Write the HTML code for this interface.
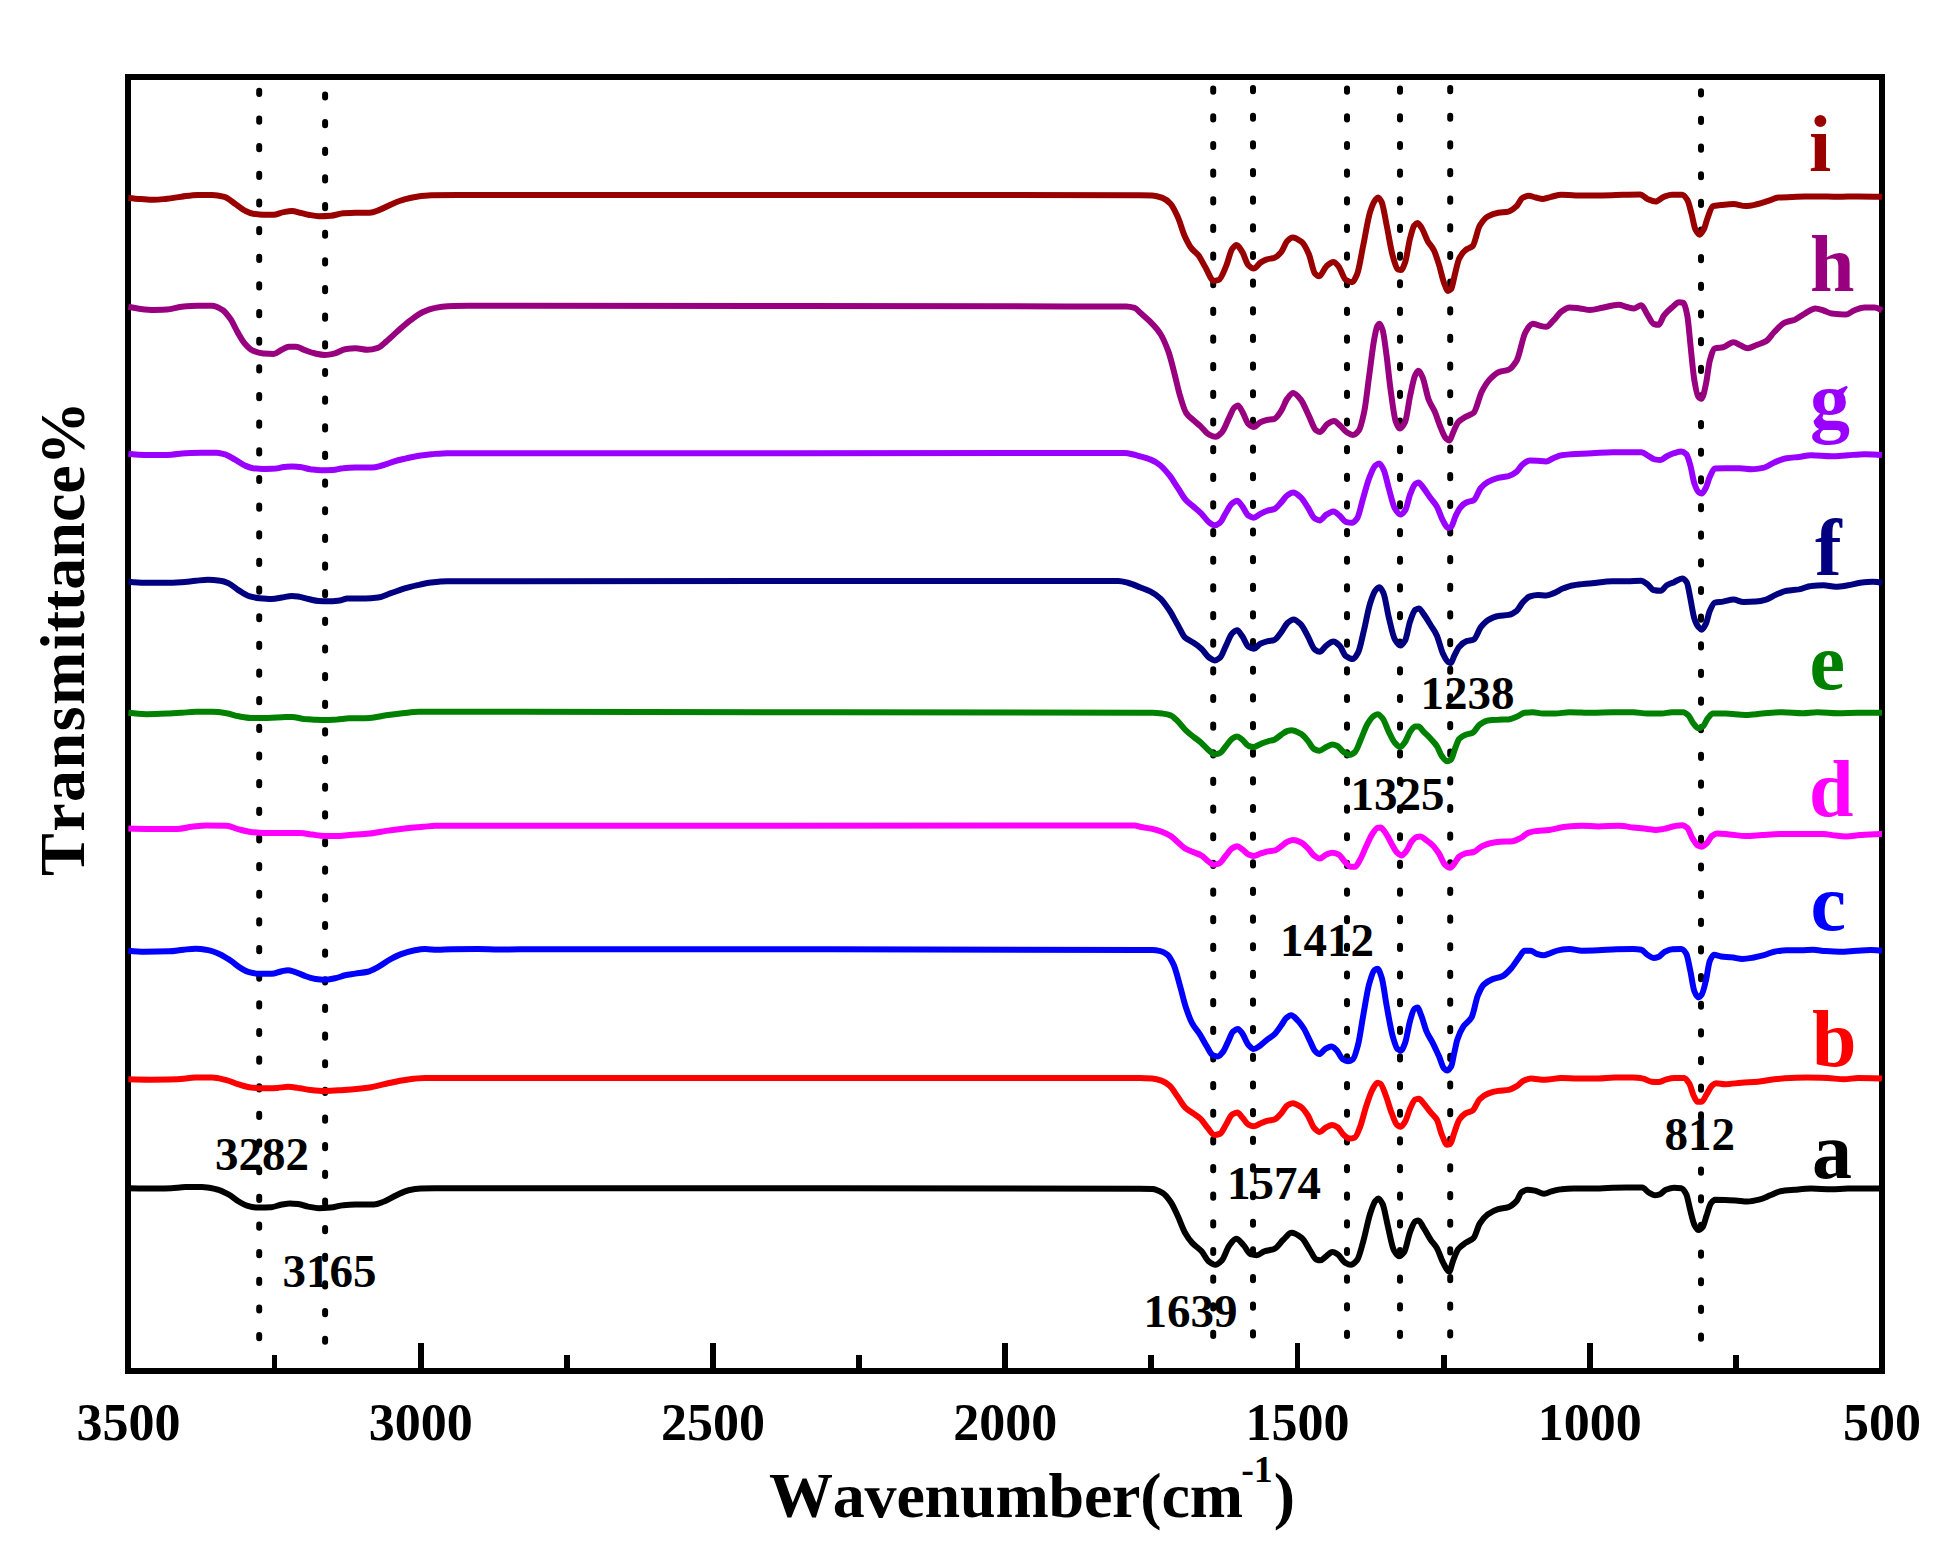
<!DOCTYPE html>
<html lang="en">
<head>
<meta charset="utf-8">
<title>FTIR spectra</title>
<style>
html,body{margin:0;padding:0;background:#fff;}
body{width:1954px;height:1564px;overflow:hidden;}
svg{display:block;}
text{font-family:"Liberation Serif",serif;font-weight:bold;font-kerning:none;}
.tick{font-size:52px;text-anchor:middle;}
.ann{font-size:47px;}
.lab{font-size:80px;}
.axis{font-size:64px;}
</style>
</head>
<body>
<svg width="1954" height="1564" viewBox="0 0 1954 1564">
<rect x="0" y="0" width="1954" height="1564" fill="#ffffff"/>
<rect x="128.4" y="77.0" width="1753.6" height="1293.7" fill="none" stroke="#000" stroke-width="5.8" shape-rendering="crispEdges"/>
<g stroke="#000" stroke-width="5.8" stroke-linecap="butt" shape-rendering="crispEdges">
<line x1="420.7" y1="1342.5" x2="420.7" y2="1370.7"/>
<line x1="712.9" y1="1342.5" x2="712.9" y2="1370.7"/>
<line x1="1005.2" y1="1342.5" x2="1005.2" y2="1370.7"/>
<line x1="1297.5" y1="1342.5" x2="1297.5" y2="1370.7"/>
<line x1="1589.7" y1="1342.5" x2="1589.7" y2="1370.7"/>
<line x1="274.5" y1="1355" x2="274.5" y2="1370.7"/>
<line x1="566.8" y1="1355" x2="566.8" y2="1370.7"/>
<line x1="859.1" y1="1355" x2="859.1" y2="1370.7"/>
<line x1="1151.3" y1="1355" x2="1151.3" y2="1370.7"/>
<line x1="1443.6" y1="1355" x2="1443.6" y2="1370.7"/>
<line x1="1735.9" y1="1355" x2="1735.9" y2="1370.7"/>
</g>
<g stroke="#000" stroke-width="6" stroke-linecap="round" stroke-dasharray="3.2 24.45" fill="none">
<line x1="259.2" y1="90.8" x2="259.2" y2="1346"/>
<line x1="325.1" y1="94.4" x2="325.1" y2="1346"/>
<line x1="1213.2" y1="88.6" x2="1213.2" y2="1346"/>
<line x1="1253.0" y1="88.0" x2="1253.0" y2="1346"/>
<line x1="1347.0" y1="88.6" x2="1347.0" y2="1346"/>
<line x1="1400.0" y1="88.6" x2="1400.0" y2="1346"/>
<line x1="1450.2" y1="88.0" x2="1450.2" y2="1346"/>
<line x1="1701.0" y1="91.2" x2="1701.0" y2="1346"/>
</g>
<g fill="none" stroke-width="6.0" stroke-linejoin="round" stroke-linecap="butt">
<path stroke="#000000" d="M128.4 1188.2C135.8 1188.5 143.3 1188.6 150.7 1188.6C157.5 1188.6 164.4 1188.4 171.2 1188.2C176.0 1188.0 180.7 1187.1 185.5 1187.1C191.0 1187.1 196.4 1187.1 201.9 1187.1C206.7 1187.1 211.4 1188.2 216.2 1189.2C220.3 1190.1 224.4 1192.2 228.5 1194.3C231.9 1196.1 235.3 1199.5 238.7 1201.5C241.5 1203.1 244.2 1204.8 246.9 1205.6C250.3 1206.6 253.7 1207.6 257.2 1207.6C261.9 1207.6 266.7 1207.5 271.5 1207.2C274.9 1207.0 278.3 1205.1 281.7 1204.5C284.4 1204.1 287.2 1203.5 289.9 1203.5C292.6 1203.5 295.4 1203.8 298.1 1204.1C301.5 1204.5 304.9 1205.9 308.3 1206.6C311.7 1207.2 315.2 1208.2 318.6 1208.2C322.7 1208.2 326.8 1207.9 330.8 1207.6C334.9 1207.3 339.0 1205.5 343.1 1205.2C347.2 1204.8 351.3 1204.5 355.4 1204.5C361.6 1204.5 367.7 1204.5 373.8 1204.5C377.3 1204.5 380.7 1202.7 384.1 1201.5C388.2 1200.0 392.3 1197.2 396.4 1195.3C400.5 1193.5 404.5 1191.0 408.6 1190.2C412.7 1189.4 416.8 1188.8 420.9 1188.6C425.7 1188.3 430.5 1188.2 435.3 1188.2C440.7 1188.2 446.2 1188.2 451.6 1188.2C474.4 1188.2 497.2 1188.2 520.0 1188.2C726.7 1188.2 933.3 1188.2 1140.0 1188.7C1144.1 1188.7 1148.2 1188.8 1152.3 1189.1C1155.7 1189.3 1159.1 1190.9 1162.5 1192.8C1165.2 1194.3 1168.0 1198.0 1170.7 1202.0C1173.1 1205.4 1175.5 1211.2 1177.9 1216.3C1180.3 1221.4 1182.6 1228.5 1185.0 1232.7C1187.4 1236.9 1189.8 1240.3 1192.2 1242.9C1195.3 1246.3 1198.3 1247.7 1201.4 1251.1C1203.8 1253.7 1206.2 1259.5 1208.6 1261.3C1210.8 1263.0 1213.1 1264.8 1215.3 1264.8C1217.5 1264.8 1219.7 1262.5 1221.9 1260.3C1224.3 1257.9 1226.7 1249.2 1229.0 1246.0C1231.4 1242.8 1233.8 1238.8 1236.2 1238.8C1238.6 1238.8 1241.0 1242.5 1243.4 1245.0C1245.8 1247.4 1248.2 1253.5 1250.5 1254.2C1252.6 1254.8 1254.6 1255.2 1256.7 1255.2C1259.4 1255.2 1262.1 1251.9 1264.9 1251.1C1267.9 1250.1 1271.0 1250.2 1274.1 1249.0C1277.2 1247.9 1280.2 1242.7 1283.3 1239.8C1286.0 1237.3 1288.8 1232.7 1291.5 1232.7C1294.9 1232.7 1298.3 1235.2 1301.7 1237.8C1304.4 1239.9 1307.2 1246.0 1309.9 1250.1C1312.0 1253.1 1314.0 1258.4 1316.0 1259.3C1317.4 1259.8 1318.8 1260.3 1320.1 1260.3C1322.2 1260.3 1324.2 1257.6 1326.3 1256.2C1328.3 1254.8 1330.4 1252.1 1332.4 1252.1C1334.1 1252.1 1335.8 1253.2 1337.5 1254.2C1339.9 1255.5 1342.3 1261.0 1344.7 1262.4C1346.8 1263.6 1348.8 1264.8 1350.8 1264.8C1352.9 1264.8 1354.9 1262.7 1357.0 1260.3C1359.0 1257.9 1361.1 1248.9 1363.1 1241.9C1365.5 1233.7 1367.9 1220.3 1370.3 1213.2C1372.0 1208.2 1373.7 1202.9 1375.4 1200.9C1376.4 1199.8 1377.5 1198.5 1378.5 1198.5C1379.8 1198.5 1381.2 1201.3 1382.6 1204.0C1384.3 1207.4 1386.0 1218.5 1387.7 1225.5C1389.7 1233.9 1391.8 1246.4 1393.8 1250.1C1395.5 1253.2 1397.3 1256.2 1399.0 1256.2C1400.7 1256.2 1402.4 1254.3 1404.1 1252.1C1406.1 1249.5 1408.2 1236.7 1410.2 1231.6C1411.9 1227.4 1413.6 1222.3 1415.3 1221.4C1416.4 1220.9 1417.4 1220.4 1418.4 1220.4C1420.1 1220.4 1421.8 1224.9 1423.5 1227.6C1425.9 1231.2 1428.3 1236.3 1430.7 1239.8C1432.7 1242.9 1434.8 1244.6 1436.8 1248.0C1438.9 1251.5 1440.9 1258.6 1443.0 1262.4C1445.0 1266.1 1447.1 1271.6 1449.1 1271.6C1450.5 1271.6 1451.8 1263.7 1453.2 1260.3C1454.9 1256.1 1456.6 1251.2 1458.3 1249.0C1460.7 1246.0 1463.1 1244.6 1465.5 1242.9C1468.2 1240.9 1470.9 1240.6 1473.7 1237.8C1475.7 1235.7 1477.8 1226.6 1479.8 1223.5C1482.5 1219.2 1485.3 1216.2 1488.0 1214.2C1491.4 1211.9 1494.8 1210.1 1498.2 1209.1C1501.7 1208.2 1505.1 1208.2 1508.5 1207.1C1511.2 1206.2 1513.9 1203.9 1516.7 1200.9C1518.3 1199.2 1519.9 1193.3 1521.5 1192.3C1523.5 1190.9 1525.6 1189.8 1527.6 1189.8C1530.0 1189.8 1532.4 1190.2 1534.8 1190.6C1537.9 1191.1 1540.9 1193.7 1544.0 1193.7C1546.7 1193.7 1549.5 1191.9 1552.2 1191.2C1555.3 1190.5 1558.3 1189.4 1561.4 1189.2C1565.5 1188.8 1569.6 1188.6 1573.7 1188.6C1579.8 1188.6 1586.0 1188.6 1592.1 1188.6C1598.9 1188.6 1605.8 1187.9 1612.6 1187.8C1617.4 1187.7 1622.1 1187.6 1626.9 1187.6C1632.0 1187.6 1637.2 1187.6 1642.3 1187.6C1644.3 1187.6 1646.4 1191.0 1648.4 1192.3C1650.5 1193.5 1652.5 1195.3 1654.6 1195.3C1656.3 1195.3 1658.0 1194.8 1659.7 1194.3C1661.7 1193.7 1663.8 1190.6 1665.8 1189.8C1668.5 1188.8 1671.3 1187.8 1674.0 1187.8C1676.4 1187.8 1678.8 1187.9 1681.2 1188.2C1682.9 1188.4 1684.6 1191.1 1686.3 1194.3C1687.6 1196.9 1689.0 1205.6 1690.4 1210.7C1691.7 1215.8 1693.1 1222.5 1694.5 1225.0C1695.8 1227.5 1697.2 1230.1 1698.6 1230.1C1699.9 1230.1 1701.3 1228.7 1702.7 1227.1C1704.0 1225.4 1705.4 1218.7 1706.8 1214.8C1708.1 1210.9 1709.5 1205.4 1710.8 1203.5C1712.2 1201.7 1713.6 1199.8 1714.9 1199.8C1718.4 1199.8 1721.8 1199.9 1725.2 1200.0C1728.6 1200.1 1732.0 1200.3 1735.4 1200.5C1739.5 1200.7 1743.6 1201.5 1747.7 1201.5C1751.8 1201.5 1755.9 1200.4 1760.0 1199.4C1763.4 1198.6 1766.8 1196.7 1770.2 1195.3C1773.6 1194.0 1777.0 1191.8 1780.5 1191.2C1785.2 1190.4 1790.0 1190.2 1794.8 1189.8C1800.2 1189.3 1805.7 1188.6 1811.2 1188.6C1818.0 1188.6 1824.8 1189.2 1831.6 1189.2C1837.1 1189.2 1842.5 1188.6 1848.0 1188.6C1853.5 1188.6 1858.9 1188.6 1864.4 1188.6C1869.5 1188.6 1874.6 1188.6 1879.7 1188.6C1880.5 1188.6 1881.2 1188.6 1882.0 1188.6"/>
<path stroke="#FF0000" d="M128.4 1079.3C135.8 1079.5 143.3 1079.7 150.7 1079.7C159.6 1079.7 168.4 1079.5 177.3 1079.3C183.5 1079.1 189.6 1077.6 195.7 1077.6C201.2 1077.6 206.7 1077.6 212.1 1077.6C216.9 1077.6 221.7 1079.0 226.4 1080.1C230.5 1081.0 234.6 1083.2 238.7 1084.4C242.8 1085.6 246.9 1087.0 251.0 1087.5C255.1 1087.9 259.2 1088.3 263.3 1088.3C268.1 1088.3 272.8 1088.1 277.6 1087.9C281.0 1087.7 284.4 1086.8 287.9 1086.8C291.3 1086.8 294.7 1087.4 298.1 1087.9C302.2 1088.4 306.3 1089.5 310.4 1089.9C315.2 1090.4 319.9 1090.9 324.7 1090.9C329.5 1090.9 334.3 1090.6 339.0 1090.3C343.1 1090.1 347.2 1089.8 351.3 1089.5C357.5 1089.0 363.6 1088.4 369.7 1087.5C375.2 1086.6 380.7 1084.9 386.1 1083.8C392.9 1082.3 399.8 1080.5 406.6 1079.7C412.7 1078.9 418.9 1078.0 425.0 1078.0C456.7 1078.0 488.3 1078.0 520.0 1078.0C726.7 1078.0 933.3 1078.0 1140.0 1078.0C1144.1 1078.0 1148.2 1078.3 1152.3 1078.6C1155.4 1078.9 1158.4 1079.7 1161.5 1080.7C1164.2 1081.6 1167.0 1083.5 1169.7 1085.8C1172.4 1088.2 1175.1 1093.2 1177.9 1097.1C1180.3 1100.4 1182.6 1104.9 1185.0 1107.3C1187.8 1110.0 1190.5 1111.5 1193.2 1113.4C1195.6 1115.2 1198.0 1116.4 1200.4 1118.6C1202.8 1120.8 1205.2 1125.1 1207.6 1127.8C1209.9 1130.5 1212.3 1134.9 1214.7 1134.9C1216.4 1134.9 1218.1 1134.5 1219.8 1133.9C1221.9 1133.2 1223.9 1127.9 1226.0 1124.7C1228.0 1121.5 1230.1 1115.8 1232.1 1114.5C1233.8 1113.4 1235.5 1112.4 1237.2 1112.4C1238.9 1112.4 1240.6 1115.7 1242.4 1117.5C1244.4 1119.7 1246.4 1123.7 1248.5 1124.7C1250.2 1125.6 1251.9 1126.3 1253.6 1126.3C1256.0 1126.3 1258.4 1124.2 1260.8 1123.3C1263.2 1122.3 1265.6 1121.2 1267.9 1120.6C1270.0 1120.1 1272.0 1120.2 1274.1 1119.6C1276.5 1118.9 1278.9 1116.0 1281.2 1113.4C1283.3 1111.3 1285.3 1106.5 1287.4 1105.3C1289.1 1104.2 1290.8 1103.2 1292.5 1103.2C1295.2 1103.2 1298.0 1105.0 1300.7 1106.7C1303.1 1108.2 1305.5 1111.8 1307.9 1115.5C1309.9 1118.6 1312.0 1125.6 1314.0 1127.8C1315.9 1129.8 1317.8 1131.9 1319.7 1131.9C1321.9 1131.9 1324.1 1128.2 1326.3 1127.2C1328.3 1126.2 1330.4 1125.1 1332.4 1125.1C1334.1 1125.1 1335.8 1126.1 1337.5 1127.2C1339.6 1128.4 1341.6 1133.3 1343.7 1134.9C1345.7 1136.6 1347.8 1138.6 1349.8 1138.6C1351.5 1138.6 1353.2 1138.1 1354.9 1137.4C1356.6 1136.7 1358.4 1131.1 1360.1 1126.8C1362.1 1121.5 1364.2 1112.3 1366.2 1106.3C1368.2 1100.2 1370.3 1093.6 1372.3 1089.9C1374.0 1086.8 1375.8 1082.7 1377.5 1082.7C1378.5 1082.7 1379.5 1083.2 1380.5 1083.8C1382.2 1084.7 1383.9 1090.7 1385.6 1095.0C1387.7 1100.2 1389.7 1108.3 1391.8 1113.4C1393.5 1117.8 1395.2 1123.2 1396.9 1124.7C1398.1 1125.7 1399.2 1126.8 1400.4 1126.8C1402.0 1126.8 1403.5 1124.0 1405.1 1121.6C1406.8 1119.0 1408.5 1111.9 1410.2 1108.3C1411.9 1104.8 1413.6 1100.2 1415.3 1099.5C1416.5 1099.1 1417.7 1098.7 1418.8 1098.7C1420.4 1098.7 1422.0 1101.5 1423.5 1103.2C1425.9 1105.8 1428.3 1109.5 1430.7 1112.4C1432.7 1114.9 1434.8 1116.1 1436.8 1119.6C1438.5 1122.5 1440.2 1130.9 1441.9 1134.9C1443.7 1138.9 1445.4 1144.8 1447.1 1144.8C1448.1 1144.8 1449.1 1144.5 1450.1 1144.2C1451.5 1143.7 1452.9 1136.5 1454.2 1132.9C1455.9 1128.3 1457.6 1122.1 1459.3 1119.6C1461.4 1116.6 1463.4 1114.7 1465.5 1113.4C1467.9 1112.0 1470.3 1112.0 1472.7 1110.4C1475.0 1108.8 1477.4 1101.4 1479.8 1099.1C1482.5 1096.5 1485.3 1094.6 1488.0 1093.6C1491.4 1092.3 1494.8 1091.4 1498.2 1090.9C1501.7 1090.4 1505.1 1090.5 1508.5 1089.9C1511.2 1089.5 1513.9 1087.8 1516.7 1086.2C1519.0 1084.9 1521.2 1081.7 1523.5 1080.7C1525.9 1079.7 1528.3 1078.6 1530.7 1078.6C1535.5 1078.6 1540.3 1079.7 1545.0 1079.7C1550.5 1079.7 1556.0 1078.0 1561.4 1078.0C1566.9 1078.0 1572.3 1078.6 1577.8 1078.6C1584.6 1078.6 1591.4 1078.6 1598.3 1078.6C1603.7 1078.6 1609.2 1077.6 1614.6 1077.6C1620.8 1077.6 1626.9 1077.6 1633.1 1077.6C1636.5 1077.6 1639.9 1078.1 1643.3 1078.6C1646.0 1079.1 1648.8 1081.5 1651.5 1081.7C1653.9 1082.0 1656.3 1082.1 1658.6 1082.1C1661.0 1082.1 1663.4 1080.3 1665.8 1079.7C1668.5 1079.0 1671.3 1078.0 1674.0 1078.0C1677.4 1078.0 1680.8 1078.0 1684.2 1078.0C1685.9 1078.0 1687.6 1081.0 1689.4 1083.8C1690.7 1086.0 1692.1 1092.2 1693.4 1095.0C1694.8 1097.8 1696.2 1101.8 1697.5 1101.8C1698.9 1101.8 1700.3 1101.8 1701.6 1101.8C1703.3 1101.8 1705.0 1096.7 1706.8 1094.0C1708.5 1091.3 1710.2 1087.4 1711.9 1085.8C1713.2 1084.6 1714.6 1083.2 1716.0 1083.2C1719.0 1083.2 1722.1 1084.2 1725.2 1084.2C1730.6 1084.2 1736.1 1083.1 1741.6 1082.7C1747.0 1082.3 1752.5 1082.2 1757.9 1081.7C1763.4 1081.2 1768.9 1079.8 1774.3 1079.3C1779.8 1078.7 1785.2 1078.2 1790.7 1078.0C1796.1 1077.8 1801.6 1077.6 1807.1 1077.6C1813.9 1077.6 1820.7 1077.8 1827.5 1078.0C1833.0 1078.2 1838.5 1079.3 1843.9 1079.3C1848.7 1079.3 1853.5 1078.0 1858.2 1078.0C1866.2 1078.0 1874.1 1078.0 1882.0 1078.6"/>
<path stroke="#0000FF" d="M128.4 950.7C133.8 951.2 139.2 951.7 144.6 951.7C152.8 951.7 160.9 951.6 169.1 951.3C173.9 951.2 178.7 950.1 183.5 949.7C187.6 949.3 191.6 948.7 195.7 948.7C199.8 948.7 203.9 949.4 208.0 950.1C212.1 950.8 216.2 952.6 220.3 954.4C223.7 955.9 227.1 958.3 230.5 960.5C234.0 962.8 237.4 966.1 240.8 968.1C243.5 969.7 246.2 971.5 249.0 972.2C252.4 973.0 255.8 973.8 259.2 973.8C263.3 973.8 267.4 973.8 271.5 973.8C274.9 973.8 278.3 971.9 281.7 971.2C283.8 970.8 285.8 970.2 287.9 970.2C289.9 970.2 292.0 971.0 294.0 971.6C297.4 972.6 300.8 974.5 304.2 975.7C307.6 976.9 311.1 978.2 314.5 978.8C317.9 979.3 321.3 979.8 324.7 979.8C328.1 979.8 331.5 979.0 334.9 978.3C338.4 977.7 341.8 976.0 345.2 975.3C348.6 974.6 352.0 974.2 355.4 973.6C359.5 973.0 363.6 972.7 367.7 971.8C371.1 971.0 374.5 968.9 377.9 967.1C381.3 965.3 384.8 962.5 388.2 960.5C392.3 958.2 396.4 955.9 400.5 954.4C404.5 952.9 408.6 951.5 412.7 950.7C416.8 950.0 420.9 949.1 425.0 949.1C429.1 949.1 433.2 949.7 437.3 949.7C442.1 949.7 446.9 949.3 451.6 949.3C460.5 949.2 469.4 949.1 478.2 949.1C485.1 949.1 491.9 949.5 498.7 949.5C505.8 949.5 512.9 949.3 520.0 949.3C726.7 949.3 933.3 949.3 1140.0 949.9C1144.1 949.9 1148.2 950.0 1152.3 950.1C1155.0 950.2 1157.7 950.6 1160.5 951.1C1162.9 951.6 1165.2 952.9 1167.6 954.8C1169.7 956.4 1171.7 960.5 1173.8 965.0C1175.8 969.6 1177.9 978.4 1179.9 985.5C1182.0 992.7 1184.0 1001.9 1186.1 1008.0C1188.1 1014.1 1190.2 1019.6 1192.2 1023.4C1194.6 1027.8 1197.0 1029.9 1199.4 1033.6C1201.8 1037.3 1204.1 1042.1 1206.5 1045.9C1208.6 1049.2 1210.6 1054.2 1212.7 1055.1C1214.4 1055.9 1216.1 1056.5 1217.8 1056.5C1219.5 1056.5 1221.2 1054.1 1222.9 1052.0C1224.6 1050.0 1226.3 1045.2 1228.0 1041.8C1229.7 1038.4 1231.4 1033.1 1233.1 1031.6C1234.7 1030.2 1236.3 1028.9 1237.9 1028.9C1239.4 1028.9 1240.9 1031.6 1242.4 1033.6C1244.4 1036.3 1246.4 1042.6 1248.5 1044.9C1250.2 1046.7 1251.9 1049.0 1253.6 1049.0C1255.7 1049.0 1257.7 1047.2 1259.8 1045.9C1262.1 1044.4 1264.5 1041.6 1266.9 1039.8C1269.3 1037.9 1271.7 1036.8 1274.1 1034.6C1276.5 1032.4 1278.9 1028.7 1281.2 1025.4C1283.0 1023.1 1284.7 1019.2 1286.4 1017.9C1287.9 1016.6 1289.5 1015.2 1291.1 1015.2C1293.3 1015.2 1295.4 1018.1 1297.6 1020.3C1299.7 1022.3 1301.7 1025.2 1303.8 1028.5C1305.8 1031.8 1307.9 1036.7 1309.9 1040.8C1311.6 1044.2 1313.3 1049.2 1315.0 1051.0C1316.4 1052.5 1317.8 1054.1 1319.1 1054.1C1321.2 1054.1 1323.2 1050.1 1325.3 1049.0C1327.3 1047.9 1329.4 1046.5 1331.4 1046.5C1333.1 1046.5 1334.8 1048.4 1336.5 1050.0C1338.6 1051.9 1340.6 1057.9 1342.7 1059.2C1344.4 1060.3 1346.1 1061.2 1347.8 1061.2C1349.5 1061.2 1351.2 1060.4 1352.9 1059.2C1354.6 1058.0 1356.3 1051.2 1358.0 1044.9C1359.7 1038.5 1361.4 1025.5 1363.1 1016.2C1365.2 1005.0 1367.2 990.5 1369.3 983.5C1371.0 977.6 1372.7 971.4 1374.4 970.2C1375.4 969.4 1376.4 968.7 1377.5 968.7C1378.8 968.7 1380.2 973.2 1381.6 977.3C1383.3 982.4 1385.0 996.9 1386.7 1006.0C1388.7 1016.8 1390.8 1029.8 1392.8 1036.7C1394.4 1042.0 1396.0 1047.9 1397.5 1049.0C1398.7 1049.8 1399.8 1050.4 1401.0 1050.4C1402.4 1050.4 1403.7 1046.3 1405.1 1042.8C1406.8 1038.4 1408.5 1026.0 1410.2 1020.3C1411.6 1015.7 1412.9 1010.1 1414.3 1009.0C1415.3 1008.3 1416.4 1007.6 1417.4 1007.6C1418.7 1007.6 1420.1 1012.9 1421.5 1016.2C1423.2 1020.4 1424.9 1027.7 1426.6 1031.6C1428.6 1036.3 1430.7 1038.8 1432.7 1042.8C1434.8 1046.9 1436.8 1051.5 1438.9 1056.1C1440.6 1060.0 1442.3 1066.7 1444.0 1068.4C1445.0 1069.4 1446.0 1070.5 1447.1 1070.5C1448.4 1070.5 1449.8 1068.7 1451.2 1066.4C1452.2 1064.7 1453.2 1057.5 1454.2 1053.1C1455.3 1048.6 1456.3 1042.8 1457.3 1039.8C1459.3 1033.6 1461.4 1029.5 1463.4 1026.4C1466.2 1022.3 1468.9 1022.0 1471.6 1017.2C1473.7 1013.7 1475.7 1000.7 1477.8 995.7C1479.8 990.8 1481.9 986.4 1483.9 984.5C1486.6 981.9 1489.4 980.5 1492.1 979.4C1495.5 978.0 1498.9 977.8 1502.3 976.3C1505.1 975.1 1507.8 972.0 1510.5 969.1C1513.3 966.2 1516.0 961.4 1518.7 957.9C1520.7 955.4 1522.6 950.7 1524.6 950.7C1526.6 950.7 1528.7 950.7 1530.7 950.7C1532.8 950.7 1534.8 953.2 1536.8 953.8C1539.2 954.5 1541.6 955.2 1544.0 955.2C1546.4 955.2 1548.8 953.6 1551.2 952.8C1553.9 951.8 1556.6 950.5 1559.4 950.1C1562.8 949.6 1566.2 949.1 1569.6 949.1C1573.7 949.1 1577.8 950.7 1581.9 950.7C1587.3 950.7 1592.8 950.5 1598.3 950.3C1604.4 950.1 1610.5 949.4 1616.7 949.3C1622.1 949.2 1627.6 949.1 1633.1 949.1C1635.8 949.1 1638.5 949.3 1641.2 949.7C1643.3 950.0 1645.3 953.5 1647.4 954.8C1649.4 956.1 1651.5 957.9 1653.5 957.9C1655.2 957.9 1656.9 957.4 1658.6 956.8C1660.7 956.2 1662.7 952.7 1664.8 951.7C1667.2 950.6 1669.6 949.4 1672.0 949.3C1675.0 949.1 1678.1 949.1 1681.2 949.1C1682.9 949.1 1684.6 951.1 1686.3 953.8C1687.6 955.9 1689.0 964.9 1690.4 971.2C1691.7 977.4 1693.1 988.4 1694.5 991.6C1695.7 994.5 1696.9 997.4 1698.2 997.4C1699.3 997.4 1700.5 996.1 1701.6 994.7C1703.0 993.1 1704.4 986.8 1705.7 981.4C1707.1 976.0 1708.5 964.1 1709.8 960.9C1711.2 957.8 1712.6 954.8 1713.9 954.8C1716.3 954.8 1718.7 956.1 1721.1 956.4C1724.5 956.9 1727.9 956.9 1731.3 957.3C1735.1 957.6 1738.8 958.9 1742.6 958.9C1746.3 958.9 1750.1 958.1 1753.8 957.5C1757.3 956.9 1760.7 956.1 1764.1 955.2C1767.5 954.3 1770.9 952.3 1774.3 951.7C1778.4 951.0 1782.5 950.3 1786.6 950.3C1791.4 950.3 1796.1 950.3 1800.9 950.3C1805.0 950.3 1809.1 949.7 1813.2 949.7C1817.3 949.7 1821.4 950.9 1825.5 951.1C1830.3 951.4 1835.0 951.7 1839.8 951.7C1845.3 951.7 1850.7 951.0 1856.2 950.7C1861.0 950.5 1865.7 950.1 1870.5 950.1C1874.3 950.1 1878.2 950.3 1882.0 950.7"/>
<path stroke="#FF00FF" d="M128.4 828.5C134.5 828.7 140.5 828.9 146.6 828.9C156.8 828.9 167.1 828.9 177.3 828.9C182.1 828.9 186.9 827.4 191.6 826.8C196.4 826.3 201.2 825.4 206.0 825.4C212.8 825.4 219.6 825.5 226.4 825.8C230.5 826.0 234.6 828.3 238.7 829.3C242.8 830.3 246.9 831.5 251.0 832.0C255.1 832.4 259.2 833.0 263.3 833.0C270.1 833.0 276.9 833.0 283.8 833.0C289.2 833.0 294.7 833.0 300.1 833.0C304.2 833.0 308.3 834.1 312.4 834.6C316.5 835.1 320.6 836.0 324.7 836.0C328.8 836.0 332.9 836.0 337.0 836.0C341.1 836.0 345.2 835.3 349.3 835.0C356.1 834.5 362.9 834.3 369.7 833.6C375.2 833.1 380.7 831.7 386.1 830.9C392.9 829.9 399.8 829.0 406.6 828.3C412.1 827.7 417.5 827.3 423.0 826.8C427.1 826.5 431.2 825.8 435.3 825.8C463.5 825.8 491.8 825.8 520.0 825.8C695.5 825.8 871.1 825.6 1046.6 825.6C1075.9 825.6 1105.3 825.6 1134.6 825.6C1136.4 825.6 1138.2 826.5 1140.0 826.8C1144.1 827.7 1148.2 828.0 1152.3 828.9C1155.7 829.6 1159.1 830.7 1162.5 832.0C1165.2 833.0 1168.0 834.3 1170.7 836.0C1173.1 837.6 1175.5 840.1 1177.9 842.2C1180.3 844.2 1182.6 846.9 1185.0 848.3C1187.8 850.0 1190.5 850.8 1193.2 852.0C1196.0 853.2 1198.7 853.9 1201.4 855.5C1203.8 856.9 1206.2 860.0 1208.6 861.6C1210.3 862.8 1212.0 864.7 1213.7 864.7C1215.4 864.7 1217.1 864.2 1218.8 863.7C1221.2 862.9 1223.6 858.3 1226.0 855.5C1228.0 853.1 1230.1 849.5 1232.1 848.3C1233.8 847.3 1235.5 846.3 1237.2 846.3C1238.9 846.3 1240.6 848.2 1242.4 849.4C1244.4 850.8 1246.4 853.6 1248.5 854.5C1250.2 855.2 1251.9 855.9 1253.6 855.9C1256.0 855.9 1258.4 854.2 1260.8 853.4C1263.2 852.7 1265.6 851.9 1267.9 851.4C1270.3 850.9 1272.7 851.0 1275.1 850.4C1277.2 849.9 1279.2 847.7 1281.2 846.3C1283.3 844.9 1285.3 842.6 1287.4 841.8C1289.3 841.0 1291.2 840.1 1293.1 840.1C1295.6 840.1 1298.2 841.1 1300.7 842.2C1303.1 843.2 1305.5 846.0 1307.9 848.3C1309.9 850.4 1312.0 854.0 1314.0 855.5C1315.9 856.9 1317.8 858.6 1319.7 858.6C1321.9 858.6 1324.1 855.3 1326.3 854.5C1328.3 853.7 1330.4 852.8 1332.4 852.8C1334.5 852.8 1336.5 853.6 1338.6 854.5C1340.6 855.4 1342.7 859.6 1344.7 861.6C1346.8 863.6 1348.8 866.8 1350.8 866.8C1352.2 866.8 1353.6 866.8 1354.9 866.8C1356.6 866.8 1358.4 862.5 1360.1 859.6C1362.1 856.1 1364.2 850.5 1366.2 846.3C1368.2 842.0 1370.3 837.0 1372.3 834.0C1374.0 831.5 1375.8 828.2 1377.5 827.9C1378.5 827.6 1379.5 827.5 1380.5 827.5C1382.2 827.5 1383.9 830.7 1385.6 833.0C1387.7 835.7 1389.7 840.7 1391.8 844.2C1393.5 847.1 1395.2 850.9 1396.9 852.4C1398.5 853.9 1400.0 855.5 1401.6 855.5C1403.1 855.5 1404.6 853.2 1406.1 851.4C1407.8 849.4 1409.5 844.4 1411.2 842.2C1412.9 840.0 1414.7 837.5 1416.4 837.1C1417.7 836.7 1419.1 836.5 1420.5 836.5C1422.2 836.5 1423.9 838.5 1425.6 839.7C1428.0 841.4 1430.3 842.9 1432.7 845.3C1434.8 847.3 1436.8 850.3 1438.9 853.4C1440.9 856.6 1443.0 862.9 1445.0 864.7C1446.7 866.2 1448.4 867.8 1450.1 867.8C1451.5 867.8 1452.9 865.3 1454.2 863.7C1455.9 861.7 1457.6 857.8 1459.3 856.5C1461.4 855.0 1463.4 854.0 1465.5 853.4C1468.2 852.7 1470.9 852.8 1473.7 852.0C1476.4 851.3 1479.1 847.6 1481.9 846.3C1484.6 845.0 1487.3 843.8 1490.1 843.2C1493.5 842.5 1496.9 842.0 1500.3 841.8C1504.4 841.5 1508.5 841.6 1512.6 841.2C1515.2 840.9 1517.8 839.4 1520.5 838.1C1523.2 836.8 1525.9 833.4 1528.7 832.6C1531.4 831.7 1534.1 831.3 1536.8 830.9C1540.9 830.4 1545.0 830.4 1549.1 829.9C1554.6 829.3 1560.0 827.3 1565.5 826.8C1571.0 826.3 1576.4 825.8 1581.9 825.8C1587.3 825.8 1592.8 826.4 1598.3 826.4C1605.1 826.4 1611.9 825.8 1618.7 825.8C1623.5 825.8 1628.3 826.9 1633.1 827.5C1637.8 828.0 1642.6 828.3 1647.4 828.9C1650.1 829.2 1652.8 829.9 1655.6 829.9C1658.3 829.9 1661.0 829.3 1663.8 828.9C1667.2 828.3 1670.6 826.8 1674.0 826.2C1676.7 825.8 1679.5 825.2 1682.2 825.2C1683.9 825.2 1685.6 826.5 1687.3 827.9C1689.0 829.3 1690.7 835.3 1692.4 838.1C1694.1 840.9 1695.8 844.3 1697.5 845.3C1698.9 846.0 1700.3 846.7 1701.6 846.7C1703.3 846.7 1705.0 844.8 1706.8 843.2C1708.5 841.7 1710.2 837.3 1711.9 836.0C1713.6 834.8 1715.3 833.6 1717.0 833.6C1721.1 833.6 1725.2 834.1 1729.3 834.4C1734.7 834.8 1740.2 836.0 1745.6 836.0C1751.1 836.0 1756.6 835.3 1762.0 835.0C1768.9 834.6 1775.7 834.0 1782.5 834.0C1789.3 834.0 1796.1 834.0 1803.0 834.0C1809.8 834.0 1816.6 834.0 1823.4 834.0C1827.5 834.0 1831.6 835.2 1835.7 835.6C1839.1 836.0 1842.5 836.5 1846.0 836.5C1850.7 836.5 1855.5 835.3 1860.3 835.0C1867.5 834.6 1874.8 834.1 1882.0 834.0"/>
<path stroke="#008000" d="M128.4 712.8C134.5 713.6 140.5 714.2 146.6 714.2C153.4 714.2 160.3 713.9 167.1 713.6C171.9 713.4 176.6 713.1 181.4 712.8C186.2 712.5 191.0 711.8 195.7 711.8C201.2 711.8 206.7 711.8 212.1 711.8C216.9 711.8 221.7 712.5 226.4 713.2C230.5 713.8 234.6 715.6 238.7 716.3C242.8 717.0 246.9 717.9 251.0 717.9C256.5 717.9 261.9 717.9 267.4 717.9C272.2 717.9 276.9 717.5 281.7 717.3C285.1 717.2 288.5 716.9 292.0 716.9C296.0 716.9 300.1 718.6 304.2 719.0C308.3 719.3 312.4 719.6 316.5 719.8C319.2 719.9 322.0 720.0 324.7 720.0C328.8 720.0 332.9 719.6 337.0 719.4C341.1 719.1 345.2 718.5 349.3 718.3C356.1 718.1 362.9 718.2 369.7 717.9C375.2 717.7 380.7 716.0 386.1 715.3C391.6 714.5 397.0 713.8 402.5 713.2C408.0 712.7 413.4 711.8 418.9 711.8C452.6 711.8 486.3 711.8 520.0 711.8C726.7 711.8 933.3 712.8 1140.0 712.8C1144.1 712.8 1148.2 712.8 1152.3 712.8C1155.7 712.8 1159.1 713.2 1162.5 713.6C1165.2 714.0 1168.0 714.4 1170.7 715.3C1173.1 716.1 1175.5 719.1 1177.9 721.4C1180.6 724.1 1183.3 728.0 1186.1 730.6C1188.8 733.2 1191.5 735.2 1194.2 737.4C1196.6 739.3 1199.0 740.8 1201.4 742.9C1203.8 745.0 1206.2 748.2 1208.6 750.1C1210.6 751.7 1212.7 754.2 1214.7 754.2C1216.4 754.2 1218.1 753.7 1219.8 753.1C1221.9 752.5 1223.9 748.4 1226.0 746.0C1228.0 743.6 1230.1 740.2 1232.1 738.8C1233.8 737.7 1235.5 736.4 1237.2 736.4C1238.9 736.4 1240.6 738.5 1242.4 739.8C1244.4 741.5 1246.4 745.3 1248.5 746.0C1250.2 746.5 1251.9 747.0 1253.6 747.0C1256.0 747.0 1258.4 744.9 1260.8 743.9C1263.2 743.0 1265.6 741.9 1267.9 741.3C1270.0 740.7 1272.0 740.5 1274.1 739.8C1276.5 739.0 1278.9 736.3 1281.2 734.7C1283.3 733.4 1285.3 731.6 1287.4 731.0C1288.8 730.6 1290.1 730.2 1291.5 730.2C1294.6 730.2 1297.6 732.0 1300.7 733.7C1303.1 735.0 1305.5 738.1 1307.9 740.9C1309.9 743.2 1312.0 748.0 1314.0 749.0C1315.7 749.9 1317.4 750.7 1319.1 750.7C1321.5 750.7 1323.9 748.1 1326.3 747.0C1328.3 746.1 1330.4 744.5 1332.4 744.5C1334.1 744.5 1335.8 745.2 1337.5 746.0C1339.6 746.9 1341.6 750.9 1343.7 752.1C1345.7 753.4 1347.8 754.8 1349.8 754.8C1351.5 754.8 1353.2 753.5 1354.9 752.1C1357.0 750.4 1359.0 743.4 1361.1 738.8C1363.1 734.2 1365.2 728.0 1367.2 724.5C1369.3 721.0 1371.3 717.7 1373.4 716.3C1374.7 715.3 1376.1 714.2 1377.5 714.2C1379.2 714.2 1380.9 716.4 1382.6 718.3C1384.6 720.7 1386.7 727.6 1388.7 731.6C1390.8 735.7 1392.8 740.7 1394.9 742.9C1396.6 744.8 1398.3 747.0 1400.0 747.0C1401.7 747.0 1403.4 744.2 1405.1 741.9C1406.8 739.6 1408.5 733.9 1410.2 731.6C1411.9 729.4 1413.6 726.5 1415.3 726.5C1416.4 726.5 1417.4 726.5 1418.4 726.5C1420.1 726.5 1421.8 729.9 1423.5 731.6C1425.9 734.0 1428.3 736.2 1430.7 738.8C1432.7 741.0 1434.8 742.9 1436.8 746.0C1438.5 748.5 1440.2 753.9 1441.9 756.2C1443.7 758.5 1445.4 761.3 1447.1 761.3C1448.4 761.3 1449.8 760.4 1451.2 759.3C1452.5 758.1 1453.9 751.4 1455.3 748.0C1456.6 744.6 1458.0 740.3 1459.3 738.8C1461.4 736.6 1463.4 735.5 1465.5 734.7C1467.9 733.8 1470.3 733.8 1472.7 732.7C1475.0 731.6 1477.4 726.2 1479.8 724.5C1482.5 722.6 1485.3 720.7 1488.0 720.4C1491.4 720.0 1494.8 719.9 1498.2 719.8C1501.7 719.6 1505.1 719.6 1508.5 719.4C1511.2 719.2 1513.9 717.8 1516.7 716.7C1519.3 715.7 1521.9 713.2 1524.6 712.8C1527.3 712.5 1530.0 712.2 1532.8 712.2C1536.2 712.2 1539.6 713.6 1543.0 713.6C1547.1 713.6 1551.2 713.6 1555.3 713.6C1560.0 713.6 1564.8 712.2 1569.6 712.2C1577.1 712.2 1584.6 712.8 1592.1 712.8C1598.9 712.8 1605.8 712.2 1612.6 712.2C1619.4 712.2 1626.2 712.2 1633.1 712.2C1637.8 712.2 1642.6 713.6 1647.4 713.6C1652.2 713.6 1656.9 713.6 1661.7 713.6C1665.1 713.6 1668.5 712.2 1672.0 712.2C1675.7 712.2 1679.5 712.2 1683.2 712.2C1684.9 712.2 1686.6 713.8 1688.3 715.3C1690.0 716.8 1691.7 721.5 1693.4 723.5C1695.2 725.5 1696.9 728.2 1698.6 728.2C1699.9 728.2 1701.3 727.4 1702.7 726.5C1704.4 725.5 1706.1 720.3 1707.8 718.3C1709.5 716.3 1711.2 713.6 1712.9 713.6C1717.0 713.6 1721.1 713.6 1725.2 713.6C1732.0 713.6 1738.8 714.9 1745.6 714.9C1751.1 714.9 1756.6 714.0 1762.0 713.6C1768.9 713.1 1775.7 712.2 1782.5 712.2C1789.3 712.2 1796.1 713.2 1803.0 713.2C1807.7 713.2 1812.5 712.2 1817.3 712.2C1824.1 712.2 1830.9 713.2 1837.8 713.2C1844.6 713.2 1851.4 712.8 1858.2 712.8C1866.2 712.8 1874.1 712.8 1882.0 712.8"/>
<path stroke="#000080" d="M128.4 581.8C133.8 582.3 139.2 582.8 144.6 582.8C152.1 582.8 159.6 582.8 167.1 582.8C171.9 582.8 176.6 582.5 181.4 582.2C186.2 581.9 191.0 581.2 195.7 580.8C199.8 580.4 203.9 579.7 208.0 579.7C212.1 579.7 216.2 580.2 220.3 580.8C223.0 581.1 225.8 582.1 228.5 583.2C231.9 584.6 235.3 588.3 238.7 590.4C242.1 592.5 245.6 595.1 249.0 596.1C252.4 597.1 255.8 597.8 259.2 598.2C263.3 598.6 267.4 599.0 271.5 599.0C274.9 599.0 278.3 598.1 281.7 597.5C285.1 597.0 288.5 595.9 292.0 595.9C294.7 595.9 297.4 596.5 300.1 596.9C302.9 597.4 305.6 598.4 308.3 599.0C311.7 599.7 315.2 600.9 318.6 601.0C322.7 601.2 326.8 601.2 330.8 601.2C334.3 601.2 337.7 600.7 341.1 600.2C343.1 599.9 345.2 598.6 347.2 598.6C353.4 598.6 359.5 598.6 365.6 598.6C369.7 598.6 373.8 598.1 377.9 597.5C382.0 597.0 386.1 594.8 390.2 593.4C395.7 591.6 401.1 589.5 406.6 587.9C410.7 586.8 414.8 585.7 418.9 584.9C423.0 584.0 427.1 583.1 431.2 582.6C436.6 581.9 442.1 581.2 447.5 581.2C471.7 581.2 495.8 581.2 520.0 581.2C695.5 581.2 871.1 580.9 1046.6 580.9C1070.5 580.9 1094.4 580.9 1118.2 580.9C1121.7 580.9 1125.1 582.1 1128.5 583.0C1132.3 584.0 1136.2 585.8 1140.0 587.3C1143.4 588.6 1146.8 589.7 1150.2 591.4C1153.6 593.1 1157.1 595.4 1160.5 598.6C1163.5 601.4 1166.6 606.2 1169.7 610.8C1172.4 615.0 1175.1 620.5 1177.9 625.2C1180.3 629.3 1182.6 635.3 1185.0 637.5C1187.8 640.0 1190.5 640.7 1193.2 642.6C1196.0 644.4 1198.7 646.3 1201.4 648.7C1204.1 651.2 1206.9 656.2 1209.6 657.9C1211.3 659.0 1213.0 660.4 1214.7 660.4C1216.4 660.4 1218.1 659.2 1219.8 657.9C1221.9 656.4 1223.9 649.7 1226.0 645.6C1228.0 641.6 1230.1 635.2 1232.1 633.4C1233.8 631.8 1235.5 630.3 1237.2 630.3C1238.9 630.3 1240.6 634.1 1242.4 636.4C1244.4 639.3 1246.4 645.4 1248.5 646.7C1250.2 647.8 1251.9 648.7 1253.6 648.7C1256.0 648.7 1258.4 644.7 1260.8 643.6C1263.2 642.5 1265.6 641.7 1267.9 641.1C1270.0 640.7 1272.0 640.7 1274.1 640.1C1276.5 639.4 1278.9 635.4 1281.2 632.3C1283.3 629.8 1285.3 624.9 1287.4 623.1C1289.4 621.4 1291.5 619.4 1293.5 619.4C1295.9 619.4 1298.3 621.9 1300.7 624.2C1303.1 626.4 1305.5 632.2 1307.9 636.4C1310.2 640.7 1312.6 648.1 1315.0 649.7C1316.6 650.8 1318.2 651.8 1319.7 651.8C1321.9 651.8 1324.1 647.2 1326.3 645.6C1328.7 643.9 1331.1 641.6 1333.4 641.6C1335.5 641.6 1337.5 643.7 1339.6 645.6C1341.6 647.6 1343.7 654.5 1345.7 655.9C1348.1 657.5 1350.5 659.0 1352.9 659.0C1354.6 659.0 1356.3 655.9 1358.0 652.8C1360.1 649.1 1362.1 637.6 1364.2 629.3C1366.2 620.9 1368.2 608.9 1370.3 602.7C1372.0 597.4 1373.7 592.3 1375.4 590.4C1376.8 588.8 1378.1 587.3 1379.5 587.3C1380.9 587.3 1382.2 590.4 1383.6 593.4C1385.3 597.2 1387.0 610.0 1388.7 617.0C1390.8 625.4 1392.8 636.1 1394.9 639.5C1396.7 642.6 1398.5 645.6 1400.4 645.6C1402.0 645.6 1403.5 643.2 1405.1 640.5C1406.8 637.7 1408.5 625.8 1410.2 621.1C1411.9 616.3 1413.6 611.0 1415.3 609.8C1416.5 609.1 1417.7 608.4 1418.8 608.4C1420.4 608.4 1422.0 611.8 1423.5 613.9C1425.9 617.1 1428.3 621.3 1430.7 625.2C1432.7 628.5 1434.8 631.0 1436.8 635.4C1438.9 639.8 1440.9 649.6 1443.0 653.8C1444.7 657.4 1446.4 661.0 1448.1 662.0C1449.0 662.5 1449.9 663.1 1450.7 663.1C1451.9 663.1 1453.1 658.1 1454.2 655.9C1455.9 652.6 1457.6 648.6 1459.3 646.7C1461.7 644.0 1464.1 642.0 1466.5 641.1C1468.9 640.3 1471.3 640.5 1473.7 639.5C1476.1 638.5 1478.5 630.2 1480.8 627.2C1483.2 624.2 1485.6 621.5 1488.0 620.1C1491.4 618.1 1494.8 616.5 1498.2 616.0C1501.7 615.4 1505.1 615.5 1508.5 614.9C1511.2 614.5 1513.9 612.9 1516.7 610.8C1518.6 609.4 1520.6 604.8 1522.5 602.7C1524.9 600.1 1527.3 597.2 1529.7 596.5C1532.4 595.7 1535.1 595.1 1537.9 595.1C1540.6 595.1 1543.3 595.5 1546.1 595.5C1548.4 595.5 1550.8 594.3 1553.2 593.4C1556.6 592.2 1560.0 589.6 1563.5 588.3C1566.9 587.1 1570.3 585.8 1573.7 585.3C1579.8 584.2 1586.0 583.9 1592.1 583.2C1598.9 582.5 1605.8 581.2 1612.6 581.2C1617.4 581.2 1622.1 581.2 1626.9 581.2C1631.7 581.2 1636.5 580.8 1641.2 580.8C1643.3 580.8 1645.3 582.8 1647.4 584.2C1649.4 585.7 1651.5 589.5 1653.5 590.0C1655.9 590.5 1658.3 590.8 1660.7 590.8C1662.7 590.8 1664.8 586.5 1666.8 585.3C1669.2 583.9 1671.6 583.2 1674.0 582.2C1676.7 581.0 1679.5 578.5 1682.2 578.5C1683.7 578.5 1685.2 580.1 1686.7 582.2C1687.9 583.9 1689.2 592.8 1690.4 598.6C1691.7 605.0 1693.1 615.1 1694.5 619.0C1695.8 622.9 1697.2 625.7 1698.6 627.2C1699.6 628.4 1700.6 629.7 1701.6 629.7C1703.0 629.7 1704.4 626.8 1705.7 624.2C1707.1 621.6 1708.5 613.8 1709.8 610.8C1711.5 607.1 1713.2 603.1 1714.9 602.7C1717.7 602.0 1720.4 602.1 1723.1 601.6C1726.5 601.1 1730.0 599.6 1733.4 599.6C1736.8 599.6 1740.2 602.0 1743.6 602.0C1747.7 602.0 1751.8 601.9 1755.9 601.6C1759.3 601.4 1762.7 600.6 1766.1 599.6C1769.5 598.6 1772.9 595.9 1776.4 594.5C1779.8 593.0 1783.2 591.4 1786.6 590.8C1790.7 590.1 1794.8 590.0 1798.9 589.4C1803.0 588.7 1807.1 586.2 1811.2 585.9C1815.3 585.5 1819.3 585.3 1823.4 585.3C1827.5 585.3 1831.6 586.7 1835.7 586.7C1839.8 586.7 1843.9 585.9 1848.0 585.3C1852.1 584.7 1856.2 583.3 1860.3 582.8C1864.4 582.3 1868.5 581.8 1872.6 581.8C1875.7 581.8 1878.9 582.2 1882.0 582.8"/>
<path stroke="#9900FF" d="M128.4 453.8C133.8 454.3 139.2 454.9 144.6 454.9C152.1 454.9 159.6 454.9 167.1 454.9C173.2 454.9 179.4 453.5 185.5 453.2C191.0 453.0 196.4 452.8 201.9 452.8C206.7 452.8 211.4 452.8 216.2 452.8C218.9 452.8 221.7 453.6 224.4 454.2C227.8 455.1 231.2 457.5 234.6 459.4C238.0 461.2 241.5 464.1 244.9 465.5C247.6 466.6 250.3 467.8 253.1 468.2C256.5 468.6 259.9 469.0 263.3 469.0C267.4 469.0 271.5 468.8 275.6 468.6C278.3 468.4 281.0 467.4 283.8 467.1C286.5 466.9 289.2 466.5 292.0 466.5C294.7 466.5 297.4 466.9 300.1 467.1C303.6 467.5 307.0 468.7 310.4 469.2C313.8 469.6 317.2 470.2 320.6 470.2C324.7 470.2 328.8 470.1 332.9 470.0C336.3 469.9 339.7 468.4 343.1 468.2C347.2 467.8 351.3 467.6 355.4 467.6C360.9 467.6 366.3 467.6 371.8 467.6C375.2 467.6 378.6 466.4 382.0 465.5C386.1 464.5 390.2 462.6 394.3 461.4C398.4 460.2 402.5 459.3 406.6 458.3C410.7 457.4 414.8 456.3 418.9 455.7C423.0 455.1 427.1 454.6 431.2 454.2C436.6 453.8 442.1 453.2 447.5 453.2C471.7 453.2 495.8 453.2 520.0 453.2C702.4 453.2 884.7 453.1 1067.1 453.1C1086.2 453.1 1105.3 453.1 1124.4 453.1C1127.8 453.1 1131.2 454.1 1134.6 454.8C1136.4 455.2 1138.2 455.8 1140.0 456.3C1143.4 457.3 1146.8 458.0 1150.2 459.4C1153.6 460.7 1157.1 462.8 1160.5 465.5C1163.5 467.9 1166.6 471.8 1169.7 475.7C1172.4 479.2 1175.1 483.9 1177.9 488.0C1180.6 492.1 1183.3 497.3 1186.1 500.3C1188.4 502.9 1190.8 504.4 1193.2 506.4C1196.0 508.8 1198.7 510.9 1201.4 513.6C1204.1 516.3 1206.9 521.0 1209.6 522.8C1211.3 523.9 1213.0 525.3 1214.7 525.3C1216.4 525.3 1218.1 524.1 1219.8 522.8C1221.9 521.3 1223.9 515.8 1226.0 512.6C1228.0 509.4 1230.1 504.9 1232.1 503.4C1233.8 502.1 1235.5 500.7 1237.2 500.7C1238.9 500.7 1240.6 504.3 1242.4 506.4C1244.4 509.1 1246.4 514.4 1248.5 515.7C1250.2 516.7 1251.9 517.7 1253.6 517.7C1256.0 517.7 1258.4 514.8 1260.8 513.6C1263.2 512.4 1265.6 511.3 1267.9 510.5C1270.0 509.9 1272.0 509.9 1274.1 509.1C1276.5 508.2 1278.9 504.9 1281.2 502.4C1283.3 500.2 1285.3 496.5 1287.4 495.2C1289.3 493.9 1291.2 492.5 1293.1 492.5C1295.6 492.5 1298.2 495.0 1300.7 497.2C1303.1 499.3 1305.5 503.9 1307.9 507.5C1310.2 511.0 1312.6 517.4 1315.0 518.7C1316.6 519.6 1318.2 520.4 1319.7 520.4C1321.9 520.4 1324.1 515.9 1326.3 514.6C1328.7 513.3 1331.1 511.6 1333.4 511.6C1335.5 511.6 1337.5 514.0 1339.6 515.7C1341.6 517.3 1343.7 521.2 1345.7 521.8C1347.8 522.4 1349.8 522.8 1351.9 522.8C1353.6 522.8 1355.3 520.9 1357.0 518.7C1359.0 516.1 1361.1 505.1 1363.1 498.3C1365.2 491.4 1367.2 482.9 1369.3 477.8C1371.3 472.7 1373.4 467.2 1375.4 465.5C1376.6 464.5 1377.9 463.5 1379.1 463.5C1380.6 463.5 1382.1 466.7 1383.6 469.6C1385.3 472.9 1387.0 482.1 1388.7 488.0C1390.8 495.1 1392.8 505.1 1394.9 508.5C1396.7 511.5 1398.5 514.6 1400.4 514.6C1402.0 514.6 1403.5 512.7 1405.1 510.5C1406.8 508.2 1408.5 498.4 1410.2 494.2C1411.9 490.0 1413.6 485.2 1415.3 483.9C1416.4 483.2 1417.4 482.5 1418.4 482.5C1420.1 482.5 1421.8 485.9 1423.5 488.0C1425.9 490.9 1428.3 495.0 1430.7 498.3C1432.7 501.1 1434.8 503.0 1436.8 506.4C1438.9 509.9 1440.9 517.2 1443.0 520.8C1444.7 523.7 1446.4 527.9 1448.1 527.9C1449.1 527.9 1450.1 527.5 1451.2 526.9C1452.5 526.1 1453.9 519.6 1455.3 516.7C1457.0 513.1 1458.7 509.4 1460.4 507.5C1462.4 505.1 1464.5 503.2 1466.5 502.4C1468.9 501.3 1471.3 501.5 1473.7 500.3C1476.1 499.1 1478.5 490.8 1480.8 488.0C1483.2 485.3 1485.6 483.2 1488.0 481.9C1491.4 480.0 1494.8 478.6 1498.2 477.8C1501.7 477.0 1505.1 477.0 1508.5 476.2C1511.2 475.5 1513.9 473.8 1516.7 471.6C1518.6 470.1 1520.6 466.0 1522.5 464.5C1524.9 462.6 1527.3 460.4 1529.7 460.4C1532.4 460.4 1535.1 460.6 1537.9 460.8C1540.6 461.0 1543.3 461.4 1546.1 461.4C1548.4 461.4 1550.8 459.3 1553.2 458.3C1556.0 457.2 1558.7 455.7 1561.4 455.3C1564.8 454.7 1568.2 454.5 1571.6 454.2C1578.5 453.8 1585.3 453.6 1592.1 453.2C1598.9 452.9 1605.8 452.2 1612.6 452.2C1617.4 452.2 1622.1 452.2 1626.9 452.2C1631.7 452.2 1636.5 452.2 1641.2 452.2C1643.3 452.2 1645.3 454.2 1647.4 455.3C1649.8 456.5 1652.2 459.0 1654.6 459.4C1656.6 459.7 1658.6 460.0 1660.7 460.0C1662.7 460.0 1664.8 457.3 1666.8 456.3C1669.2 455.1 1671.6 453.9 1674.0 453.2C1676.4 452.5 1678.8 451.6 1681.2 451.6C1682.9 451.6 1684.6 452.7 1686.3 454.2C1687.6 455.5 1689.0 460.8 1690.4 465.5C1691.7 470.2 1693.1 480.2 1694.5 483.9C1695.8 487.7 1697.2 491.1 1698.6 492.1C1699.6 492.9 1700.6 493.6 1701.6 493.6C1703.0 493.6 1704.4 490.5 1705.7 488.0C1707.1 485.6 1708.5 479.6 1709.8 476.8C1711.5 473.3 1713.2 468.7 1714.9 468.6C1718.4 468.3 1721.8 468.2 1725.2 468.2C1730.0 468.2 1734.7 468.2 1739.5 468.2C1743.6 468.2 1747.7 469.2 1751.8 469.2C1755.9 469.2 1760.0 468.4 1764.1 467.6C1767.5 466.8 1770.9 463.8 1774.3 462.4C1778.4 460.8 1782.5 459.0 1786.6 458.3C1790.7 457.6 1794.8 457.4 1798.9 456.9C1803.0 456.4 1807.1 455.3 1811.2 455.3C1818.0 455.3 1824.8 456.3 1831.6 456.3C1837.1 456.3 1842.5 455.6 1848.0 455.3C1853.5 454.9 1858.9 454.2 1864.4 454.2C1870.3 454.2 1876.1 454.4 1882.0 454.9"/>
<path stroke="#990080" d="M128.4 306.8C132.4 307.7 136.4 308.5 140.5 308.9C144.9 309.4 149.3 309.9 153.8 309.9C158.2 309.9 162.6 309.7 167.1 309.5C171.9 309.2 176.6 307.3 181.4 306.8C186.9 306.3 192.3 305.8 197.8 305.8C202.6 305.8 207.3 305.8 212.1 305.8C215.5 305.8 218.9 307.9 222.4 309.9C225.1 311.5 227.8 315.3 230.5 319.1C232.9 322.5 235.3 328.4 237.7 332.4C240.1 336.5 242.5 341.0 244.9 343.7C247.6 346.8 250.3 349.7 253.1 350.8C256.5 352.2 259.9 353.3 263.3 353.5C266.7 353.7 270.1 353.9 273.5 353.9C276.3 353.9 279.0 351.1 281.7 349.8C284.1 348.7 286.5 346.8 288.9 346.8C291.3 346.8 293.7 346.8 296.0 346.8C298.8 346.8 301.5 348.9 304.2 349.8C307.6 351.0 311.1 352.6 314.5 353.3C317.9 354.0 321.3 354.9 324.7 354.9C328.1 354.9 331.5 354.1 334.9 353.3C338.4 352.5 341.8 349.8 345.2 349.2C348.6 348.7 352.0 348.2 355.4 348.2C359.5 348.2 363.6 349.8 367.7 349.8C371.1 349.8 374.5 348.9 377.9 347.8C380.7 346.9 383.4 343.9 386.1 341.6C390.2 338.3 394.3 334.0 398.4 330.4C402.5 326.8 406.6 323.2 410.7 320.1C414.8 317.1 418.9 313.8 423.0 312.0C427.1 310.1 431.2 308.6 435.3 307.9C439.3 307.1 443.4 306.4 447.5 306.2C454.4 306.0 461.2 305.8 468.0 305.8C485.3 305.8 502.7 305.8 520.0 305.8C702.4 305.8 884.7 306.4 1067.1 306.4C1086.9 306.4 1106.6 306.4 1126.4 306.4C1129.2 306.4 1131.9 307.0 1134.6 307.8C1136.4 308.3 1138.2 310.9 1140.0 312.5C1143.4 315.5 1146.8 318.2 1150.2 321.7C1153.6 325.2 1157.1 328.6 1160.5 334.0C1163.2 338.3 1165.9 344.7 1168.7 352.4C1170.7 358.2 1172.8 367.1 1174.8 374.9C1176.5 381.5 1178.2 389.7 1179.9 395.4C1182.0 402.2 1184.0 409.8 1186.1 412.8C1188.4 416.4 1190.8 417.8 1193.2 420.0C1195.6 422.2 1198.0 423.9 1200.4 426.1C1203.1 428.6 1205.8 432.9 1208.6 434.3C1211.0 435.5 1213.4 436.8 1215.7 436.8C1217.8 436.8 1219.8 434.4 1221.9 432.3C1224.3 429.7 1226.7 422.7 1229.0 417.9C1230.8 414.5 1232.5 409.1 1234.2 407.7C1235.4 406.7 1236.6 405.6 1237.9 405.6C1239.4 405.6 1240.9 409.4 1242.4 411.8C1244.4 415.1 1246.4 422.2 1248.5 424.1C1250.2 425.6 1251.9 427.1 1253.6 427.1C1256.0 427.1 1258.4 423.1 1260.8 422.0C1262.8 421.1 1264.9 420.4 1266.9 420.0C1269.3 419.5 1271.7 419.6 1274.1 419.0C1276.5 418.3 1278.9 414.3 1281.2 410.8C1283.3 407.8 1285.3 401.1 1287.4 398.5C1289.3 396.0 1291.2 393.0 1293.1 393.0C1295.6 393.0 1298.2 396.5 1300.7 399.5C1303.4 402.8 1306.2 410.4 1308.9 415.9C1311.3 420.7 1313.7 428.7 1316.0 430.2C1317.4 431.1 1318.8 431.9 1320.1 431.9C1322.5 431.9 1324.9 425.6 1327.3 424.1C1329.6 422.6 1331.8 421.0 1334.1 421.0C1335.9 421.0 1337.7 423.5 1339.6 425.1C1342.0 427.1 1344.4 430.8 1346.8 432.3C1348.8 433.5 1350.8 434.9 1352.9 434.9C1354.9 434.9 1357.0 432.9 1359.0 430.2C1360.7 428.0 1362.4 420.0 1364.2 411.8C1365.9 403.6 1367.6 387.2 1369.3 374.9C1371.0 362.7 1372.7 346.7 1374.4 338.1C1375.4 333.0 1376.4 327.4 1377.5 325.8C1378.1 324.8 1378.8 323.8 1379.5 323.8C1380.5 323.8 1381.6 326.9 1382.6 329.9C1383.9 334.0 1385.3 346.5 1386.7 356.5C1388.0 366.6 1389.4 381.7 1390.8 391.3C1392.5 403.4 1394.2 417.8 1395.9 422.0C1397.3 425.4 1398.6 428.6 1400.0 428.6C1401.7 428.6 1403.4 425.5 1405.1 422.0C1406.8 418.5 1408.5 403.1 1410.2 395.4C1411.9 387.7 1413.6 378.2 1415.3 374.9C1416.4 373.0 1417.4 370.8 1418.4 370.8C1419.8 370.8 1421.1 374.2 1422.5 377.0C1424.5 381.2 1426.6 394.2 1428.6 399.5C1430.7 404.8 1432.7 407.1 1434.8 411.8C1436.8 416.5 1438.9 423.5 1440.9 428.2C1442.6 432.1 1444.3 436.9 1446.0 438.4C1447.2 439.4 1448.4 440.5 1449.5 440.5C1450.7 440.5 1452.0 434.9 1453.2 432.3C1454.9 428.7 1456.6 423.9 1458.3 422.0C1460.7 419.4 1463.1 418.3 1465.5 416.9C1468.2 415.3 1470.9 415.1 1473.7 412.8C1476.4 410.5 1479.1 396.5 1481.9 391.3C1484.6 386.1 1487.3 381.9 1490.1 379.0C1493.1 375.9 1496.2 372.9 1499.3 371.9C1502.3 370.8 1505.4 371.0 1508.5 369.8C1511.2 368.8 1513.9 365.1 1516.7 360.6C1519.6 355.7 1522.6 336.9 1525.6 332.0C1528.0 328.0 1530.4 323.8 1532.8 323.8C1534.8 323.8 1536.8 324.9 1538.9 325.4C1541.3 326.0 1543.7 326.8 1546.1 326.8C1548.4 326.8 1550.8 323.0 1553.2 320.7C1556.0 318.0 1558.7 313.4 1561.4 311.5C1564.1 309.6 1566.9 307.4 1569.6 307.4C1573.0 307.4 1576.4 308.0 1579.8 308.4C1583.2 308.8 1586.7 310.1 1590.1 310.1C1594.2 310.1 1598.3 308.6 1602.4 307.8C1607.8 306.8 1613.3 304.7 1618.7 304.7C1621.5 304.7 1624.2 306.4 1626.9 307.0C1629.3 307.5 1631.7 308.4 1634.1 308.4C1636.5 308.4 1638.9 305.3 1641.2 305.3C1643.3 305.3 1645.3 311.5 1647.4 314.6C1649.4 317.6 1651.5 323.1 1653.5 323.8C1655.2 324.4 1656.9 324.8 1658.6 324.8C1660.4 324.8 1662.1 317.8 1663.8 315.6C1666.5 312.0 1669.2 309.7 1672.0 307.4C1674.3 305.4 1676.7 302.3 1679.1 302.3C1680.5 302.3 1681.8 302.4 1683.2 302.7C1684.6 302.9 1685.9 309.0 1687.3 315.6C1688.3 320.5 1689.4 334.8 1690.4 344.2C1691.7 356.8 1693.1 373.5 1694.5 381.1C1695.8 388.6 1697.2 396.7 1698.6 397.5C1699.6 398.1 1700.6 398.5 1701.6 398.5C1703.0 398.5 1704.4 390.9 1705.7 385.2C1707.1 379.4 1708.5 365.4 1709.8 360.6C1711.5 354.7 1713.2 348.8 1714.9 348.3C1717.7 347.6 1720.4 347.8 1723.1 347.3C1726.5 346.6 1730.0 342.2 1733.4 342.2C1735.8 342.2 1738.1 344.2 1740.5 345.3C1742.9 346.3 1745.3 348.3 1747.7 348.3C1750.4 348.3 1753.2 346.3 1755.9 345.3C1759.3 343.9 1762.7 343.2 1766.1 341.2C1768.9 339.5 1771.6 334.7 1774.3 332.0C1777.7 328.5 1781.1 324.3 1784.5 322.7C1788.0 321.2 1791.4 321.0 1794.8 319.7C1798.2 318.3 1801.6 315.4 1805.0 313.5C1808.4 311.7 1811.8 308.4 1815.3 308.4C1818.0 308.4 1820.7 309.6 1823.4 310.5C1826.2 311.3 1828.9 313.2 1831.6 313.5C1836.4 314.1 1841.2 314.6 1846.0 314.6C1848.7 314.6 1851.4 311.5 1854.1 310.5C1857.6 309.2 1861.0 307.4 1864.4 307.4C1867.8 307.4 1871.2 307.4 1874.6 307.4C1877.1 307.4 1879.5 309.0 1882.0 310.5"/>
<path stroke="#990000" d="M128.4 197.9C132.4 198.3 136.4 198.7 140.5 199.0C144.9 199.3 149.3 199.8 153.8 199.8C158.2 199.8 162.6 199.2 167.1 198.8C171.9 198.3 176.6 197.3 181.4 196.7C186.9 196.0 192.3 194.9 197.8 194.9C202.6 194.9 207.3 194.9 212.1 194.9C216.2 194.9 220.3 195.8 224.4 196.9C227.8 197.8 231.2 201.2 234.6 203.5C238.0 205.7 241.5 209.0 244.9 210.6C247.6 211.9 250.3 213.3 253.1 213.7C256.5 214.2 259.9 214.7 263.3 214.7C266.7 214.7 270.1 214.7 273.5 214.7C276.9 214.7 280.4 212.6 283.8 212.1C286.5 211.6 289.2 211.0 292.0 211.0C294.7 211.0 297.4 212.1 300.1 212.7C302.9 213.3 305.6 214.2 308.3 214.7C311.7 215.3 315.2 216.2 318.6 216.2C322.7 216.2 326.8 216.0 330.8 215.7C334.9 215.5 339.0 213.6 343.1 213.3C347.2 213.0 351.3 212.7 355.4 212.7C360.2 212.7 365.0 212.7 369.7 212.7C373.2 212.7 376.6 210.8 380.0 209.6C384.1 208.1 388.2 205.6 392.3 203.9C396.4 202.2 400.5 200.5 404.5 199.4C408.6 198.3 412.7 197.3 416.8 196.7C421.6 196.0 426.4 195.4 431.2 195.3C440.0 195.0 448.9 194.9 457.8 194.9C478.5 194.9 499.3 194.9 520.0 194.9C726.7 194.9 933.3 194.9 1140.0 195.2C1144.1 195.2 1148.2 195.3 1152.3 195.4C1155.7 195.5 1159.1 196.6 1162.5 197.9C1165.2 198.9 1168.0 201.1 1170.7 204.0C1173.1 206.6 1175.5 212.1 1177.9 217.3C1180.3 222.6 1182.6 231.6 1185.0 236.8C1187.1 241.2 1189.1 245.4 1191.2 248.0C1193.6 251.1 1196.0 252.2 1198.3 255.2C1200.7 258.2 1203.1 263.5 1205.5 267.5C1208.2 272.0 1211.0 280.8 1213.7 280.8C1215.4 280.8 1217.1 280.3 1218.8 279.8C1221.2 278.9 1223.6 271.8 1226.0 266.4C1228.0 261.8 1230.1 251.8 1232.1 249.0C1233.6 247.0 1235.1 245.0 1236.6 245.0C1238.5 245.0 1240.4 249.1 1242.4 252.1C1244.4 255.4 1246.4 263.5 1248.5 265.4C1250.2 267.0 1251.9 268.5 1253.6 268.5C1256.0 268.5 1258.4 263.9 1260.8 262.4C1262.8 261.1 1264.9 259.9 1266.9 259.3C1269.3 258.6 1271.7 258.6 1274.1 257.9C1276.5 257.1 1278.9 254.8 1281.2 252.1C1283.3 249.8 1285.3 242.9 1287.4 240.9C1289.1 239.2 1290.8 237.4 1292.5 237.4C1295.6 237.4 1298.6 239.5 1301.7 241.9C1304.1 243.7 1306.5 248.8 1308.9 254.2C1310.9 258.8 1313.0 271.5 1315.0 273.6C1316.4 275.0 1317.8 276.3 1319.1 276.3C1321.5 276.3 1323.9 268.5 1326.3 266.4C1328.7 264.4 1331.1 261.9 1333.4 261.9C1335.2 261.9 1336.9 264.5 1338.6 266.4C1341.0 269.2 1343.3 278.2 1345.7 279.8C1347.8 281.1 1349.8 282.2 1351.9 282.2C1353.6 282.2 1355.3 278.4 1357.0 274.6C1359.0 270.1 1361.1 255.7 1363.1 246.0C1365.5 234.6 1367.9 218.3 1370.3 211.2C1372.0 206.1 1373.7 202.0 1375.4 199.9C1376.3 198.8 1377.2 197.5 1378.1 197.5C1379.2 197.5 1380.4 199.7 1381.6 202.0C1383.3 205.3 1385.0 217.3 1386.7 225.5C1388.7 235.3 1390.8 249.3 1392.8 256.2C1394.5 262.0 1396.2 268.9 1397.9 269.5C1399.0 269.9 1400.0 270.1 1401.0 270.1C1402.4 270.1 1403.7 266.0 1405.1 262.4C1406.8 257.8 1408.5 244.0 1410.2 237.8C1411.6 232.8 1412.9 227.2 1414.3 225.5C1415.3 224.2 1416.4 223.1 1417.4 223.1C1418.7 223.1 1420.1 225.6 1421.5 227.6C1423.5 230.5 1425.6 237.2 1427.6 240.9C1429.7 244.5 1431.7 246.0 1433.8 250.1C1435.5 253.4 1437.2 259.0 1438.9 264.4C1440.6 269.8 1442.3 278.5 1444.0 282.8C1445.4 286.3 1446.7 291.0 1448.1 291.0C1449.1 291.0 1450.1 290.1 1451.2 289.0C1452.5 287.5 1453.9 277.7 1455.3 272.6C1456.6 267.5 1458.0 261.0 1459.3 258.3C1461.4 254.2 1463.4 251.7 1465.5 250.1C1467.9 248.1 1470.3 248.3 1472.7 246.0C1475.0 243.7 1477.4 229.4 1479.8 225.5C1482.5 221.1 1485.3 217.7 1488.0 216.3C1491.4 214.5 1494.8 213.4 1498.2 212.8C1501.7 212.2 1505.1 212.3 1508.5 211.6C1511.2 211.0 1513.9 208.6 1516.7 206.1C1518.6 204.2 1520.6 198.9 1522.5 197.9C1524.6 196.8 1526.6 195.8 1528.7 195.8C1531.0 195.8 1533.4 197.0 1535.8 197.5C1538.2 198.0 1540.6 198.9 1543.0 198.9C1545.7 198.9 1548.4 197.5 1551.2 196.8C1554.6 196.1 1558.0 194.8 1561.4 194.8C1566.2 194.8 1571.0 195.4 1575.7 195.4C1584.6 195.4 1593.5 195.4 1602.4 195.4C1609.2 195.4 1616.0 195.0 1622.8 194.8C1628.6 194.6 1634.4 194.4 1640.2 194.4C1642.6 194.4 1645.0 197.9 1647.4 198.9C1650.1 200.1 1652.8 201.6 1655.6 201.6C1658.3 201.6 1661.0 197.8 1663.8 196.8C1666.5 195.9 1669.2 194.8 1672.0 194.8C1675.4 194.8 1678.8 194.8 1682.2 194.8C1683.9 194.8 1685.6 197.3 1687.3 199.9C1688.7 202.0 1690.0 208.3 1691.4 213.2C1692.8 218.1 1694.1 227.0 1695.5 229.6C1696.9 232.2 1698.2 234.7 1699.6 234.7C1701.0 234.7 1702.3 232.0 1703.7 229.6C1705.0 227.2 1706.4 220.8 1707.8 217.3C1709.5 213.0 1711.2 206.5 1712.9 206.1C1715.6 205.4 1718.4 205.3 1721.1 205.0C1725.2 204.6 1729.3 204.0 1733.4 204.0C1737.5 204.0 1741.6 206.1 1745.6 206.1C1749.7 206.1 1753.8 204.9 1757.9 204.0C1761.3 203.3 1764.8 202.0 1768.2 200.9C1771.6 199.9 1775.0 197.7 1778.4 197.5C1784.5 197.1 1790.7 197.0 1796.8 196.8C1803.7 196.7 1810.5 196.4 1817.3 196.4C1824.1 196.4 1830.9 196.8 1837.8 196.8C1844.6 196.8 1851.4 196.4 1858.2 196.4C1866.2 196.4 1874.1 196.6 1882.0 196.8"/>
</g>
<text class="lab" x="1809.0" y="171.0" fill="#990000">i</text>
<text class="lab" x="1810.0" y="291.0" fill="#990080">h</text>
<text class="lab" x="1810.0" y="428.0" fill="#9900FF">g</text>
<text class="lab" x="1815.0" y="575.0" fill="#000080">f</text>
<text class="lab" x="1809.5" y="689.0" fill="#008000">e</text>
<text class="lab" x="1809.0" y="815.5" fill="#FF00FF">d</text>
<text class="lab" x="1810.5" y="929.5" fill="#0000FF">c</text>
<text class="lab" x="1812.0" y="1065.5" fill="#FF0000">b</text>
<text class="lab" x="1812.0" y="1178.0" fill="#000000">a</text>
<text class="ann" x="215.0" y="1170.0">3282</text>
<text class="ann" x="282.5" y="1287.0">3165</text>
<text class="ann" x="1143.5" y="1327.0">1639</text>
<text class="ann" x="1227.0" y="1199.0">1574</text>
<text class="ann" x="1280.0" y="956.0">1412</text>
<text class="ann" x="1350.5" y="810.0">1325</text>
<text class="ann" x="1420.5" y="709.0">1238</text>
<text class="ann" x="1664.5" y="1150.0">812</text>
<text class="tick" x="128.4" y="1440">3500</text>
<text class="tick" x="420.7" y="1440">3000</text>
<text class="tick" x="712.9" y="1440">2500</text>
<text class="tick" x="1005.2" y="1440">2000</text>
<text class="tick" x="1297.5" y="1440">1500</text>
<text class="tick" x="1589.7" y="1440">1000</text>
<text class="tick" x="1882.0" y="1440">500</text>
<text class="axis" x="769" y="1517" letter-spacing="-0.2">Wavenumber(cm<tspan font-size="38" dy="-35" dx="-1.5">-1</tspan><tspan dy="35" dx="1.3">)</tspan></text>
<text class="axis" transform="translate(84,876) rotate(-90)" x="0" y="0" dx="0 1.5 1.5 1.5 1.5 1.5 1.5">Transmittance%</text>
</svg>
</body>
</html>
